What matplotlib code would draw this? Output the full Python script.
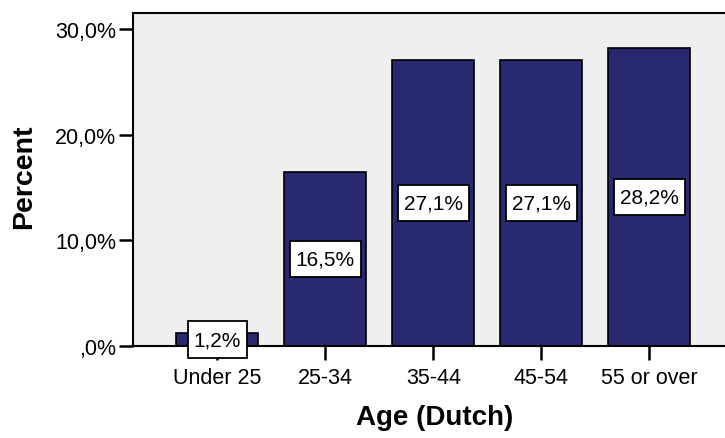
import matplotlib
matplotlib.use("Agg")
import matplotlib.pyplot as plt
from matplotlib.path import Path
from matplotlib.ticker import FixedLocator, FuncFormatter

plt.rcParams['font.family'] = ['Liberation Sans', 'DejaVu Sans']

# Age distribution of Dutch respondents
categories = ["Under 25", "25-34", "35-44", "45-54", "55 or over"]
percent = [1.2, 16.5, 27.1, 27.1, 28.2]
y_ticks = [0, 10, 20, 30]

bar_color = "#29296f"
bg_color = "#efefef"


def label_box(x0, y0, width, height, mutation_size):
    """Square label box with separate horizontal/vertical padding."""
    px = 0.29 * mutation_size
    py = 0.42 * mutation_size
    l, b = x0 - px, y0 - py
    r, t = x0 + width + px, y0 + height + py
    return Path([(l, b), (r, b), (r, t), (l, t), (l, b)], closed=True)


fig = plt.figure(figsize=(7.25, 4.39), dpi=100)
ax = fig.add_axes([133 / 725, 1 - 347 / 439, 1 - 133 / 725, (347 - 14) / 439])
ax.set_facecolor(bg_color)

x = list(range(len(categories)))
ax.bar(x, percent, width=0.76, color=bar_color, edgecolor="black", linewidth=1.2, zorder=2)


def pct_label(v):
    return f"{v:.1f}".replace(".", ",") + "%"


for xi, v in zip(x, percent):
    ax.text(xi, v / 2, pct_label(v), ha="center", va="center", fontsize=15,
            zorder=5, clip_on=False,
            bbox=dict(boxstyle=label_box, facecolor="white",
                      edgecolor="black", linewidth=1.3))

ax.set_xlim(-0.78, 4.70)
ax.set_ylim(0, 31.5)
ax.xaxis.set_major_locator(FixedLocator(x))
ax.set_xticklabels(categories, fontsize=15.5)
ax.yaxis.set_major_locator(FixedLocator(y_ticks))


def y_fmt(v, pos):
    if v == 0:
        return ",0%"
    return f"{v:.1f}".replace(".", ",") + "%"


ax.yaxis.set_major_formatter(FuncFormatter(y_fmt))
ax.tick_params(axis="y", labelsize=15.5, length=10, width=1.8, pad=2, direction="out")
ax.tick_params(axis="x", length=10, width=1.8, pad=5, direction="out")

for side in ("left", "bottom", "top"):
    ax.spines[side].set_linewidth(1.5)
    ax.spines[side].set_color("black")
ax.spines["right"].set_visible(False)

ax.set_ylabel("Percent", fontsize=20.5, fontweight="bold")
ax.set_xlabel("Age (Dutch)", fontsize=20, fontweight="bold")
ax.yaxis.set_label_coords(-0.162, 0.51)
ax.xaxis.set_label_coords(0.51, -0.175)

fig.savefig("out.png", dpi=100)
